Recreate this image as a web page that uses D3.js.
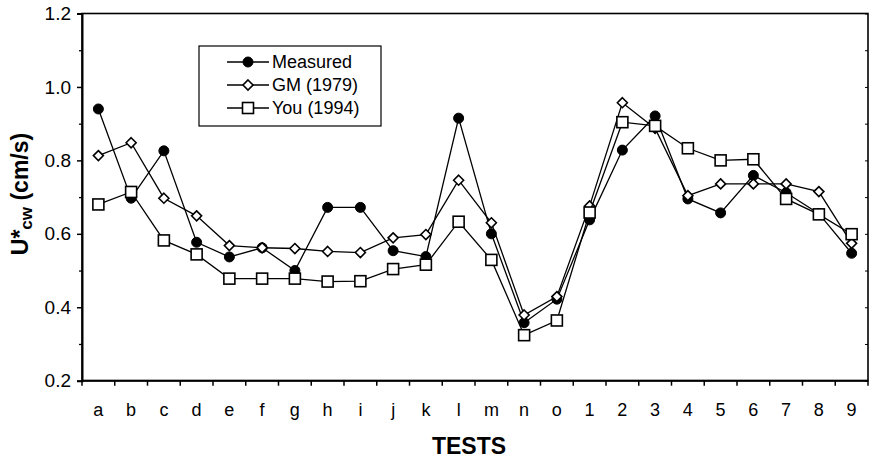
<!DOCTYPE html>
<html>
<head>
<meta charset="utf-8">
<script src="https://cdn.jsdelivr.net/npm/d3@7"></script>
<style>
  html, body { margin: 0; padding: 0; background: #fff; }
  svg { display: block; font-family: "Liberation Sans", Arial, sans-serif; }
</style>
</head>
<body>
<svg id="chart" width="873" height="461"></svg>
<script>
const categories = ["a","b","c","d","e","f","g","h","i","j","k","l","m","n","o","1","2","3","4","5","6","7","8","9"];
const measured = [0.940,0.697,0.826,0.577,0.537,0.562,0.500,0.672,0.672,0.554,0.538,0.915,0.600,0.358,0.422,0.638,0.828,0.921,0.695,0.657,0.759,0.712,0.655,0.547];
const gm1979   = [0.813,0.848,0.697,0.649,0.568,0.562,0.560,0.552,0.549,0.589,0.598,0.746,0.630,0.379,0.429,0.676,0.957,0.887,0.704,0.736,0.736,0.736,0.715,0.574];
const you1994  = [0.680,0.714,0.582,0.544,0.478,0.478,0.478,0.470,0.471,0.504,0.516,0.633,0.529,0.324,0.364,0.658,0.904,0.894,0.833,0.800,0.803,0.695,0.653,0.599];
const yTicks = [0.2,0.4,0.6,0.8,1.0,1.2];
const yMinorTicks = [0.3,0.5,0.7,0.9,1.1];
const seriesNames = ["Measured","GM (1979)","You (1994)"];

const svg = d3.select("#chart");
const L = 82, R = 868, T = 13.5, B = 380.7;

const x = d3.scaleBand().domain(categories).range([L, R]).paddingInner(0).paddingOuter(0);
const y = d3.scaleLinear().domain([0.2, 1.2]).range([B, T]);
const cx = c => x(c) + x.bandwidth() / 2;

// Frame
svg.append("rect").attr("x", L).attr("y", T).attr("width", R - L).attr("height", B - T)
  .attr("fill", "none").attr("stroke", "#000").attr("stroke-width", 1.6);

// Left axis
const yAxis = d3.axisLeft(y).tickValues(yTicks).tickFormat(d3.format(".1f")).tickSize(5).tickPadding(6);
const gy = svg.append("g").attr("transform", `translate(${L},0)`).call(yAxis);
gy.select(".domain").attr("stroke-width", 2);
gy.selectAll(".tick line").attr("stroke-width", 1.5);
gy.selectAll(".tick text").attr("font-size", 19).attr("font-family", "Liberation Sans, Arial, sans-serif").attr("fill", "#000");
const gyMinor = svg.append("g").attr("transform", `translate(${L},0)`)
  .call(d3.axisLeft(y).tickValues(yMinorTicks).tickSize(3).tickFormat(""));
gyMinor.select(".domain").remove();
gyMinor.selectAll(".tick line").attr("stroke-width", 1.3);

// Right axis inward ticks
const gr = svg.append("g").attr("transform", `translate(${R},0)`)
  .call(d3.axisRight(y).tickValues(yTicks.concat(yMinorTicks)).tickSize(-3).tickFormat(""));
gr.select(".domain").remove();
gr.selectAll(".tick line").attr("stroke-width", 1);

// Bottom axis: ticks at band boundaries, labels at centres
const boundaries = categories.map(c => x(c)).concat([R]);
svg.append("g").selectAll("line").data(boundaries).join("line")
  .attr("x1", d => d).attr("x2", d => d).attr("y1", B).attr("y2", B + 5)
  .attr("stroke", "#000").attr("stroke-width", 1.5);
svg.append("line").attr("x1", L).attr("x2", R).attr("y1", B).attr("y2", B)
  .attr("stroke", "#000").attr("stroke-width", 2);
svg.append("g").selectAll("text").data(categories).join("text")
  .attr("x", d => cx(d)).attr("y", 416).attr("text-anchor", "middle")
  .attr("font-size", 18).text(d => d);

// Axis titles
svg.append("text").attr("x", 469).attr("y", 454).attr("text-anchor", "middle")
  .attr("font-size", 23).attr("font-weight", "bold").text("TESTS");
const yt = svg.append("text").attr("transform", "translate(28,194) rotate(-90)")
  .attr("text-anchor", "middle").attr("font-size", 23).attr("font-weight", "bold");
yt.append("tspan").text("U*");
yt.append("tspan").attr("font-size", 17).attr("dy", 4).text("cw");
yt.append("tspan").attr("dy", -4).text(" (cm/s)");

// Marker helpers
const diamondPath = (s) => `M0,${-s}L${s},0L0,${s}L${-s},0Z`;
function drawMarker(g, kind, px, py) {
  if (kind === 0) {
    g.append("circle").attr("cx", px).attr("cy", py).attr("r", 5).attr("fill", "#000").attr("stroke", "#000");
  } else if (kind === 1) {
    g.append("path").attr("d", diamondPath(5)).attr("transform", `translate(${px},${py})`)
      .attr("fill", "#fff").attr("stroke", "#000").attr("stroke-width", 1.6);
  } else {
    g.append("rect").attr("x", px - 5.5).attr("y", py - 5.5).attr("width", 11).attr("height", 11)
      .attr("fill", "#fff").attr("stroke", "#000").attr("stroke-width", 1.6);
  }
}

const allSeries = [measured, gm1979, you1994];
const line = d3.line().x((d, i) => cx(categories[i])).y(d => y(d));
allSeries.forEach((vals, k) => {
  const g = svg.append("g");
  g.append("path").attr("d", line(vals)).attr("fill", "none").attr("stroke", "#000").attr("stroke-width", 1.3);
  vals.forEach((v, i) => drawMarker(g, k, cx(categories[i]), y(v)));
});

// Legend
const lg = svg.append("g");
lg.append("rect").attr("x", 199).attr("y", 46).attr("width", 182).attr("height", 80)
  .attr("fill", "#fff").attr("stroke", "#000").attr("stroke-width", 1.2);
const ly = [62, 85, 108];
seriesNames.forEach((name, k) => {
  lg.append("line").attr("x1", 227).attr("x2", 269).attr("y1", ly[k]).attr("y2", ly[k])
    .attr("stroke", "#000").attr("stroke-width", 1.3);
  drawMarker(lg, k, 248, ly[k]);
  lg.append("text").attr("x", 272).attr("y", ly[k] + 6).attr("font-size", 18).text(name);
});
</script>
</body>
</html>
